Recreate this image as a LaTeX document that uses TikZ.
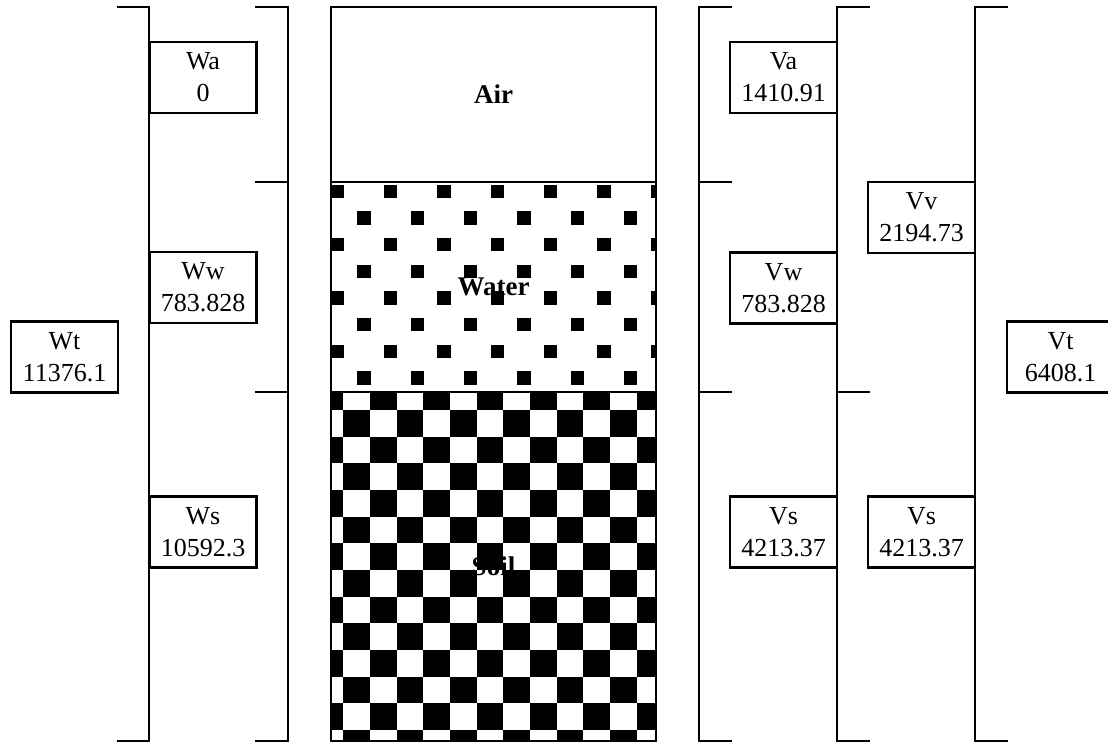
\documentclass[tikz,border=0pt]{standalone}
\usepackage{fontspec}
\setmainfont{Liberation Serif}
\usetikzlibrary{positioning}
\tikzset{
  phasebox/.style={draw=black, line width=2.2pt, fill=white, align=center,
    minimum width=107pt, minimum height=71pt, inner sep=0pt,
    font=\fontsize{26}{32}\selectfont},
  phaselabel/.style={font=\fontsize{27}{32}\selectfont\bfseries},
  bracketline/.style={draw=black, line width=2.6pt},
  columnline/.style={draw=black, line width=2.4pt}
}

\begin{document}
\begin{tikzpicture}[x=1pt, y=-1pt]
  \useasboundingbox (0,0) rectangle (1108,742);
  \clip (0,0) rectangle (1108,742);

  % water dots
  \begin{scope}
    \clip (331,182) rectangle (656,392);
    \foreach \j in {0,...,7}{
      \foreach \m in {0,...,12}{
        \pgfmathparse{int(mod(\m+\j,2))}
        \ifnum\pgfmathresult=0
          \fill (330.7+26.67*\m, 184.5+26.67*\j) rectangle ++(13.33,13.33);
        \fi
      }
    }
  \end{scope}
  % soil checkers
  \begin{scope}
    \clip (331,392) rectangle (656,741);
    \foreach \r in {0,...,13}{
      \foreach \c in {0,...,12}{
        \pgfmathparse{int(mod(\c+\r,2))}
        \ifnum\pgfmathresult=0
          \fill (316.7+26.67*\c, 383.3+26.67*\r) rectangle ++(26.67,26.67);
        \fi
      }
    }
  \end{scope}

  \draw[columnline] (331,7) rectangle (656,741);
  \draw[columnline] (331,182) -- (656,182);
  \draw[columnline] (331,392) -- (656,392);
  \node[phaselabel] (air) at (493.5,94.5) {Air};
  \node[phaselabel] (water) at (493.5,287) {Water};
  \node[phaselabel] (soil) at (493.5,566) {Soil};

  % weight brackets
  \draw[bracketline] (117,7) -- (149,7) -- (149,741) -- (117,741);
  \draw[bracketline] (255,7) -- (288,7) -- (288,741) -- (255,741);
  \foreach \y in {182,392}
    \draw[bracketline] (255,\y) -- (288,\y);

  % volume brackets
  \draw[bracketline] (732,7) -- (699,7) -- (699,741) -- (732,741);
  \foreach \y in {182,392}
    \draw[bracketline] (699,\y) -- (732,\y);
  \draw[bracketline] (870,7) -- (837,7) -- (837,741) -- (870,741);
  \draw[bracketline] (837,392) -- (870,392);
  \draw[bracketline] (1008,7) -- (975,7) -- (975,741) -- (1008,741);

  \node[phasebox] (wt) at (64.5,357) {Wt\\11376.1};
  \node[phasebox] (wa) at (203,77.5) {Wa\\0};
  \node[phasebox] (ww) at (203,287.5) {Ww\\783.828};
  \node[phasebox] (ws) at (203,532) {Ws\\10592.3};

  \node[phasebox] (va) at (783.5,77.5) {Va\\1410.91};
  \node[phasebox] (vw) at (783.5,288) {Vw\\783.828};
  \node[phasebox] (vsa) at (783.5,532) {Vs\\4213.37};
  \node[phasebox] (vv) at (921.5,217.5) {Vv\\2194.73};
  \node[phasebox] (vsb) at (921.5,532) {Vs\\4213.37};
  \node[phasebox] (vt) at (1060.5,357) {Vt\\6408.1};
\end{tikzpicture}
\end{document}
